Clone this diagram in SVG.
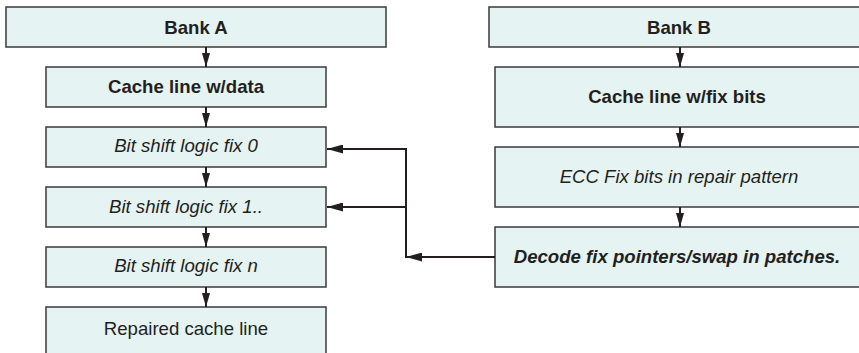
<svg xmlns="http://www.w3.org/2000/svg" width="859" height="353" viewBox="0 0 859 353">
  <style>
    .box { fill: #e5f3f3; stroke: #3a3a3a; stroke-width: 1.5; }
    .t { font-family: "Liberation Sans", Arial, sans-serif; font-size: 18.6px; fill: #231f20; text-anchor: middle; }
    .b { font-weight: bold; }
    .i { font-style: italic; }
    .wire { fill: none; stroke: #231f20; stroke-width: 2; }
  </style>
  <defs>
    <marker id="arrow" viewBox="0 0 16 9" refX="16" refY="4.5" markerWidth="16" markerHeight="9" markerUnits="userSpaceOnUse" orient="auto">
      <path d="M0,0 L16,4.5 L0,9 Z" fill="#231f20"/>
    </marker>
    <marker id="arrowS" viewBox="0 0 14 8" refX="14" refY="4" markerWidth="14" markerHeight="8" markerUnits="userSpaceOnUse" orient="auto">
      <path d="M0,0 L14,4 L0,8 Z" fill="#231f20"/>
    </marker>
  </defs>

  <rect width="859" height="353" fill="#ffffff"/>

  <!-- Bank A column -->
  <g id="bankA">
    <rect class="box" x="6" y="7" width="380" height="40"/>
    <text class="t b" x="196" y="34">Bank A</text>
  </g>
  <g id="cacheData">
    <rect class="box" x="46" y="67" width="280" height="40"/>
    <text class="t b" x="186" y="93">Cache line w/data</text>
  </g>
  <g id="fix0">
    <rect class="box" x="46" y="127" width="280" height="40"/>
    <text class="t i" x="186" y="152">Bit shift logic fix 0</text>
  </g>
  <g id="fix1">
    <rect class="box" x="46" y="187" width="280" height="40"/>
    <text class="t i" x="186" y="213">Bit shift logic fix 1..</text>
  </g>
  <g id="fixN">
    <rect class="box" x="46" y="247" width="280" height="40"/>
    <text class="t i" x="186" y="272">Bit shift logic fix n</text>
  </g>
  <g id="repaired">
    <rect class="box" x="46" y="307" width="280" height="60"/>
    <text class="t" x="186" y="335">Repaired cache line</text>
  </g>

  <!-- Bank B column -->
  <g id="bankB">
    <rect class="box" x="489" y="7" width="390" height="40"/>
    <text class="t b" x="679" y="34">Bank B</text>
  </g>
  <g id="cacheFix">
    <rect class="box" x="495" y="67" width="384" height="60"/>
    <text class="t b" x="677" y="103">Cache line w/fix bits</text>
  </g>
  <g id="ecc">
    <rect class="box" x="495" y="147" width="384" height="60"/>
    <text class="t i" x="679" y="183">ECC Fix bits in repair pattern</text>
  </g>
  <g id="decode">
    <rect class="box" x="495" y="227" width="384" height="60"/>
    <text class="t b i" x="677" y="263">Decode fix pointers/swap in patches.</text>
  </g>

  <!-- Connectors -->
  <g id="connectors">
    <line class="wire" x1="206" y1="47" x2="206" y2="67" marker-end="url(#arrowS)"/>
    <line class="wire" x1="206" y1="107" x2="206" y2="127" marker-end="url(#arrowS)"/>
    <line class="wire" x1="206" y1="167" x2="206" y2="187" marker-end="url(#arrowS)"/>
    <line class="wire" x1="206" y1="227" x2="206" y2="247" marker-end="url(#arrowS)"/>
    <line class="wire" x1="206" y1="287" x2="206" y2="307" marker-end="url(#arrowS)"/>

    <line class="wire" x1="680" y1="47" x2="680" y2="67" marker-end="url(#arrowS)"/>
    <line class="wire" x1="680" y1="127" x2="680" y2="147" marker-end="url(#arrowS)"/>
    <line class="wire" x1="680" y1="207" x2="680" y2="227" marker-end="url(#arrowS)"/>

    <line class="wire" x1="495" y1="257" x2="406" y2="257" marker-end="url(#arrow)"/>
    <line class="wire" x1="406" y1="258" x2="406" y2="148"/>
    <line class="wire" x1="407" y1="149" x2="327" y2="149" marker-end="url(#arrow)"/>
    <line class="wire" x1="407" y1="207" x2="327" y2="207" marker-end="url(#arrow)"/>
  </g>
</svg>
